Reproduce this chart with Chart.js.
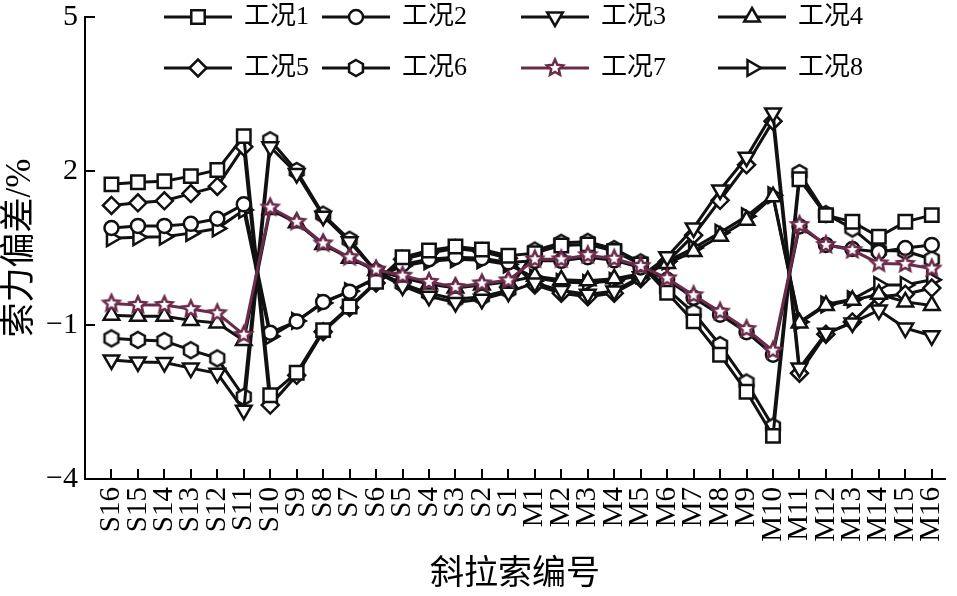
<!DOCTYPE html>
<html>
<head>
<meta charset="utf-8">
<script src="https://cdn.jsdelivr.net/npm/chart.js@4.4.1/dist/chart.umd.min.js"></script>
<style>
  html, body { margin: 0; padding: 0; background: #fff; }
  #wrap { width: 957px; height: 596px; }
</style>
</head>
<body>
<div id="wrap"><canvas id="grafico" width="957" height="596"></canvas></div>
<script>
// 斜拉索编号
const cabos = ['S16', 'S15', 'S14', 'S13', 'S12', 'S11', 'S10', 'S9', 'S8', 'S7', 'S6', 'S5', 'S4', 'S3', 'S2', 'S1',
               'M1', 'M2', 'M3', 'M4', 'M5', 'M6', 'M7', 'M8', 'M9', 'M10', 'M11', 'M12', 'M13', 'M14', 'M15', 'M16'];
const nomes = ['工况1', '工况2', '工况3', '工况4', '工况5', '工况6', '工况7', '工况8'];
const yTicks = [-4, -1, 2, 5];

// 索力偏差 (%)
const caso1 = [1.74, 1.78, 1.80, 1.90, 2.02, 2.68, -2.37, -1.93, -1.10, -0.64, -0.16, 0.32, 0.45, 0.53, 0.47, 0.35,
               0.40, 0.55, 0.57, 0.44, 0.18, -0.37, -0.93, -1.58, -2.30, -3.16, 1.84, 1.14, 1.01, 0.72, 1.01, 1.14];
const caso2 = [0.89, 0.93, 0.93, 0.97, 1.07, 1.35, -1.15, -0.93, -0.55, -0.35, -0.09, 0.18, 0.28, 0.32, 0.30, 0.22,
               0.25, 0.25, 0.32, 0.26, 0.12, -0.12, -0.47, -0.80, -1.14, -1.58, 0.92, 0.56, 0.48, 0.42, 0.50, 0.56];
const caso3 = [-1.68, -1.72, -1.73, -1.84, -1.94, -2.66, 2.47, 1.95, 1.12, 0.62, 0.03, -0.24, -0.44, -0.56, -0.50, -0.36,
               -0.18, -0.33, -0.40, -0.34, -0.06, 0.33, 0.89, 1.63, 2.27, 3.13, -1.84, -1.16, -0.96, -0.71, -1.06, -1.21];
const caso4 = [-0.81, -0.83, -0.83, -0.91, -0.96, -1.30, 1.25, 0.99, 0.57, 0.30, 0.06, -0.08, -0.20, -0.28, -0.22, -0.16,
               -0.05, -0.12, -0.14, -0.10, 0.00, 0.20, 0.43, 0.73, 1.04, 1.50, -0.96, -0.62, -0.52, -0.40, -0.55, -0.62];
const caso5 = [1.33, 1.38, 1.42, 1.56, 1.70, 2.47, -2.56, -1.98, -1.13, -0.66, -0.18, 0.28, 0.40, 0.49, 0.43, 0.30,
               -0.22, -0.38, -0.45, -0.38, -0.10, 0.23, 0.75, 1.43, 2.12, 2.97, -1.94, -1.18, -0.94, -0.45, -0.40, -0.28];
const caso6 = [-1.26, -1.29, -1.31, -1.49, -1.65, -2.40, 2.60, 2.00, 1.15, 0.66, 0.05, -0.20, -0.38, -0.50, -0.45, -0.32,
               0.45, 0.60, 0.62, 0.48, 0.22, -0.30, -0.76, -1.39, -2.12, -2.98, 1.96, 1.16, 0.88, 0.45, 0.44, 0.28];
const caso7 = [-0.58, -0.61, -0.61, -0.69, -0.77, -1.19, 1.29, 1.01, 0.59, 0.32, 0.08, -0.04, -0.16, -0.26, -0.19, -0.13,
               0.28, 0.28, 0.36, 0.29, 0.15, -0.09, -0.42, -0.74, -1.08, -1.50, 0.95, 0.56, 0.46, 0.20, 0.19, 0.10];
const caso8 = [0.69, 0.71, 0.72, 0.79, 0.88, 1.24, -1.22, -0.92, -0.57, -0.34, -0.08, 0.15, 0.24, 0.28, 0.26, 0.18,
               -0.08, -0.16, -0.18, -0.14, -0.03, 0.24, 0.50, 0.80, 1.12, 1.53, -0.94, -0.60, -0.50, -0.22, -0.22, -0.12];
const casos = [caso1, caso2, caso3, caso4, caso5, caso6, caso7, caso8];

const PRETO = '#111111';
const VINHO = '#6b2c4c';
const fonteSerif = '"Liberation Serif", "Noto Sans CJK SC", serif';

// marcadores desenhados à mão (hexágono e estrela)
function marcador(tipo, cor) {
    const c = document.createElement('canvas');
    c.width = 24; c.height = 24;
    const g = c.getContext('2d');
    g.translate(12, 12);
    g.beginPath();
    if (tipo === 'hex') {
        for (let k = 0; k < 6; k++) {
            const a = -Math.PI / 2 + k * Math.PI / 3;
            g.lineTo(8 * Math.cos(a), 8 * Math.sin(a));
        }
    } else {
        for (let k = 0; k < 10; k++) {
            const a = -Math.PI / 2 + k * Math.PI / 5;
            const r = k % 2 === 0 ? 8.5 : 4;
            g.lineTo(r * Math.cos(a), r * Math.sin(a));
        }
    }
    g.closePath();
    g.fillStyle = '#ffffff';
    g.fill();
    g.lineWidth = 2.5;
    g.strokeStyle = cor;
    g.stroke();
    return c;
}

const estilos = [
    { style: 'rect', radius: 9.5, rotation: 0 },
    { style: 'circle', radius: 7, rotation: 0 },
    { style: 'triangle', radius: 9, rotation: 180 },
    { style: 'triangle', radius: 9, rotation: 0 },
    { style: 'rectRot', radius: 8.5, rotation: 0 },
    { style: marcador('hex', PRETO), radius: 8, rotation: 0 },
    { style: marcador('star', VINHO), radius: 8, rotation: 0 },
    { style: 'triangle', radius: 9, rotation: 90 },
];

const datasets = casos.map((valores, i) => {
    const cor = i === 6 ? VINHO : PRETO;
    return {
        label: nomes[i],
        data: valores.map((v, k) => ({ x: k, y: v })),
        borderColor: cor,
        borderWidth: 3,
        tension: 0,
        fill: false,
        clip: false,
        order: i === 6 ? 0 : 1,
        pointStyle: estilos[i].style,
        pointRadius: estilos[i].radius,
        pointRotation: estilos[i].rotation,
        pointBackgroundColor: '#ffffff',
        pointBorderColor: cor,
        pointBorderWidth: 2.5,
    };
});

// legenda em duas linhas de quatro
const legendaX = [198, 356, 555, 752];
const legendaY = [17, 68];
const legenda = {
    id: 'legendaCasos',
    afterDraw(chart) {
        const ctx = chart.ctx;
        chart.data.datasets.forEach((ds, i) => {
            const cx = legendaX[i % 4];
            const cy = legendaY[Math.floor(i / 4)];
            ctx.save();
            ctx.strokeStyle = ds.borderColor;
            ctx.lineWidth = 3;
            ctx.beginPath();
            ctx.moveTo(cx - 34, cy);
            ctx.lineTo(cx + 34, cy);
            ctx.stroke();
            ctx.fillStyle = '#ffffff';
            ctx.strokeStyle = ds.pointBorderColor;
            ctx.lineWidth = ds.pointBorderWidth;
            Chart.helpers.drawPoint(ctx, {
                pointStyle: ds.pointStyle,
                radius: ds.pointRadius,
                rotation: ds.pointRotation,
                borderWidth: ds.pointBorderWidth,
            }, cx, cy);
            ctx.fillStyle = '#000';
            ctx.font = '26px ' + fonteSerif;
            ctx.textBaseline = 'middle';
            ctx.textAlign = 'left';
            ctx.fillText(ds.label, cx + 46, cy);
            ctx.restore();
        });
    }
};

const ctx = document.getElementById('grafico').getContext('2d');
new Chart(ctx, {
    type: 'line',
    data: { datasets: datasets },
    options: {
        responsive: false,
        animation: false,
        layout: { padding: { top: 17, right: 4, left: 0, bottom: 0 } },
        plugins: {
            legend: { display: false },
            tooltip: { enabled: false },
        },
        scales: {
            x: {
                type: 'linear',
                min: -1,
                max: 31.5,
                afterBuildTicks: (s) => { s.ticks = cabos.map((_, k) => ({ value: k })); },
                afterFit: (s) => { s.height = 117; s.paddingLeft = 0; s.paddingRight = 0; },
                grid: { drawOnChartArea: false, drawTicks: true, tickLength: -10, color: '#000', lineWidth: 2 },
                border: { display: true, color: '#000', width: 2 },
                ticks: {
                    autoSkip: false,
                    minRotation: 90,
                    maxRotation: 90,
                    padding: 18,
                    color: '#000',
                    font: { family: fonteSerif, size: 29 },
                    callback: (v) => cabos[v],
                },
                title: {
                    display: true,
                    text: '斜拉索编号',
                    color: '#000',
                    font: { family: fonteSerif, size: 34 },
                    padding: { top: 0, bottom: 1 },
                },
            },
            y: {
                min: -4,
                max: 5,
                afterBuildTicks: (s) => { s.ticks = yTicks.map((v) => ({ value: v })); },
                afterFit: (s) => { s.width = 85; s.paddingTop = 0; s.paddingBottom = 0; },
                grid: { drawOnChartArea: false, drawTicks: true, tickLength: -10, color: '#000', lineWidth: 2 },
                border: { display: true, color: '#000', width: 2 },
                ticks: {
                    padding: 17,
                    color: '#000',
                    font: { family: fonteSerif, size: 30 },
                    callback: (v) => String(v).replace('-', '\u2212'),
                },
                title: {
                    display: true,
                    text: '索力偏差/%',
                    color: '#000',
                    font: { family: fonteSerif, size: 35 },
                    padding: { top: 0, bottom: 0 },
                },
            },
        },
    },
    plugins: [legenda],
});
</script>
</body>
</html>
